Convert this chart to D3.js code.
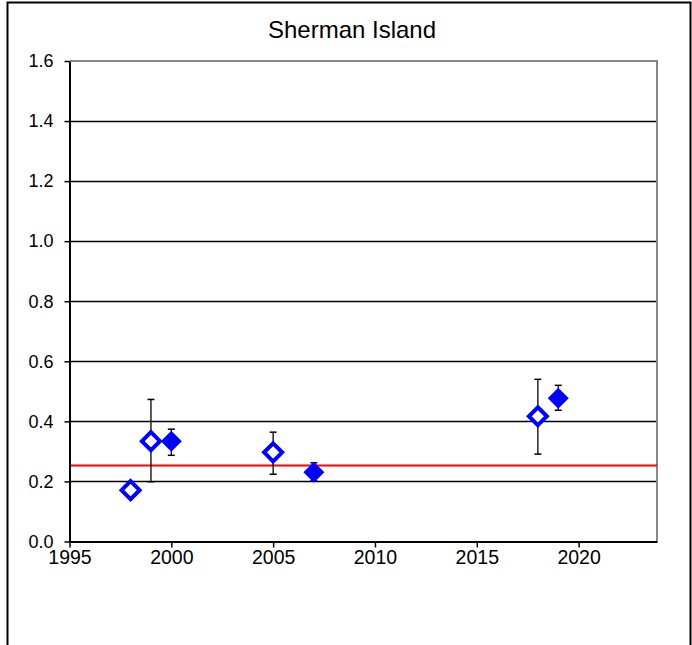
<!DOCTYPE html>
<html>
<head>
<meta charset="utf-8">
<script src="https://cdn.jsdelivr.net/npm/d3@7"></script>
<style>
  html, body { margin: 0; padding: 0; background: #fff; }
  svg { display: block; font-family: "Liberation Sans", Arial, sans-serif; }
</style>
</head>
<body>
<svg id="chart" width="692" height="645"></svg>
<script>
// Survey years and measured values (mean, with low/high of the error bar)
const openYears = [1998, 1999, 2005, 2018];
const openMeans = [0.171, 0.334, 0.297, 0.417];
const openLow   = [null, 0.199, 0.224, 0.291];
const openHigh  = [null, 0.473, 0.364, 0.540];

const filledYears = [2000, 2007, 2019];
const filledMeans = [0.334, 0.231, 0.477];
const filledLow   = [0.287, 0.202, 0.437];
const filledHigh  = [0.374, 0.262, 0.520];

const referenceLevel = 0.253;

const xTicks = [1995, 2000, 2005, 2010, 2015, 2020];
const yTicks = [0.0, 0.2, 0.4, 0.6, 0.8, 1.0, 1.2, 1.4, 1.6];
const title = "Sherman Island";

const xMin = 1995, xMax = 2023.85;

const svg = d3.select("#chart");

// outer chart frame
svg.append("rect")
  .attr("x", 7.5).attr("y", 2.5)
  .attr("width", 683).attr("height", 700)
  .attr("fill", "none").attr("stroke", "#000").attr("stroke-width", 2);

const x = d3.scaleLinear().domain([xMin, xMax]).range([69.5, 657]);
const y = d3.scaleLinear().domain([0, 1.6]).range([541.5, 61]);

// horizontal gridlines
svg.append("g").selectAll("line")
  .data(yTicks.filter(v => v > 0 && v < 1.6))
  .join("line")
  .attr("x1", x(xMin)).attr("x2", x(xMax))
  .attr("y1", d => Math.round(y(d)) + 0.5).attr("y2", d => Math.round(y(d)) + 0.5)
  .attr("stroke", "#000").attr("stroke-width", 1.3);

// plot-area border (top and right)
svg.append("path")
  .attr("d", `M${x(xMin)},${y(1.6)}H${x(xMax)}V${y(0)}`)
  .attr("fill", "none").attr("stroke", "#888").attr("stroke-width", 2);

// reference level
svg.append("line")
  .attr("x1", x(xMin)).attr("x2", x(xMax))
  .attr("y1", y(referenceLevel)).attr("y2", y(referenceLevel))
  .attr("stroke", "#ff0000").attr("stroke-width", 2);

// axes
const yAxis = d3.axisLeft(y).tickValues(yTicks).tickFormat(d3.format(".1f"))
  .tickSize(5).tickSizeOuter(0).tickPadding(11);
const xAxis = d3.axisBottom(x).tickValues(xTicks).tickFormat(d3.format("d"))
  .tickSize(6).tickSizeOuter(0).tickPadding(3);

const gy = svg.append("g").attr("transform", `translate(${x(xMin)},0)`).call(yAxis);
const gx = svg.append("g").attr("transform", `translate(0,${y(0)})`).call(xAxis);
[gx, gy].forEach(g => {
  g.select(".domain").attr("stroke", "#000").attr("stroke-width", 2);
  g.selectAll(".tick line").attr("stroke", "#000").attr("stroke-width", 1.5);
  g.selectAll("text").attr("fill", "#000")
    .attr("font-family", "Liberation Sans, Arial, sans-serif");
});
gy.selectAll("text").attr("font-size", 18);
gx.selectAll("text").attr("font-size", 19.5);

// title
svg.append("text")
  .attr("x", 352).attr("y", 38)
  .attr("text-anchor", "middle")
  .attr("font-size", 24).attr("fill", "#000")
  .text(title);

// error bars
function errorBars(years, lows, highs) {
  const g = svg.append("g");
  years.forEach((yr, i) => {
    if (lows[i] == null) return;
    const cx = x(yr);
    g.append("line").attr("x1", cx).attr("x2", cx)
      .attr("y1", y(lows[i])).attr("y2", y(highs[i]))
      .attr("stroke", "#000").attr("stroke-width", 1.3);
    [lows[i], highs[i]].forEach(v => {
      g.append("line").attr("x1", cx - 3.5).attr("x2", cx + 3.5)
        .attr("y1", y(v)).attr("y2", y(v))
        .attr("stroke", "#000").attr("stroke-width", 1.5);
    });
  });
}
errorBars(openYears, openLow, openHigh);
errorBars(filledYears, filledLow, filledHigh);

const diamond = (r) => `M0,${-r}L${r},0L0,${r}L${-r},0Z`;

// open diamonds
svg.append("g").selectAll("path")
  .data(openYears.map((yr, i) => [yr, openMeans[i]]))
  .join("path")
  .attr("transform", d => `translate(${x(d[0])},${y(d[1])})`)
  .attr("d", diamond(9))
  .attr("fill", "#fff").attr("stroke", "#0000ff").attr("stroke-width", 4)
  .attr("stroke-linejoin", "miter");

// filled diamonds
svg.append("g").selectAll("path")
  .data(filledYears.map((yr, i) => [yr, filledMeans[i]]))
  .join("path")
  .attr("transform", d => `translate(${x(d[0])},${y(d[1])})`)
  .attr("d", diamond(10.5))
  .attr("fill", "#0000ff");
</script>
</body>
</html>
